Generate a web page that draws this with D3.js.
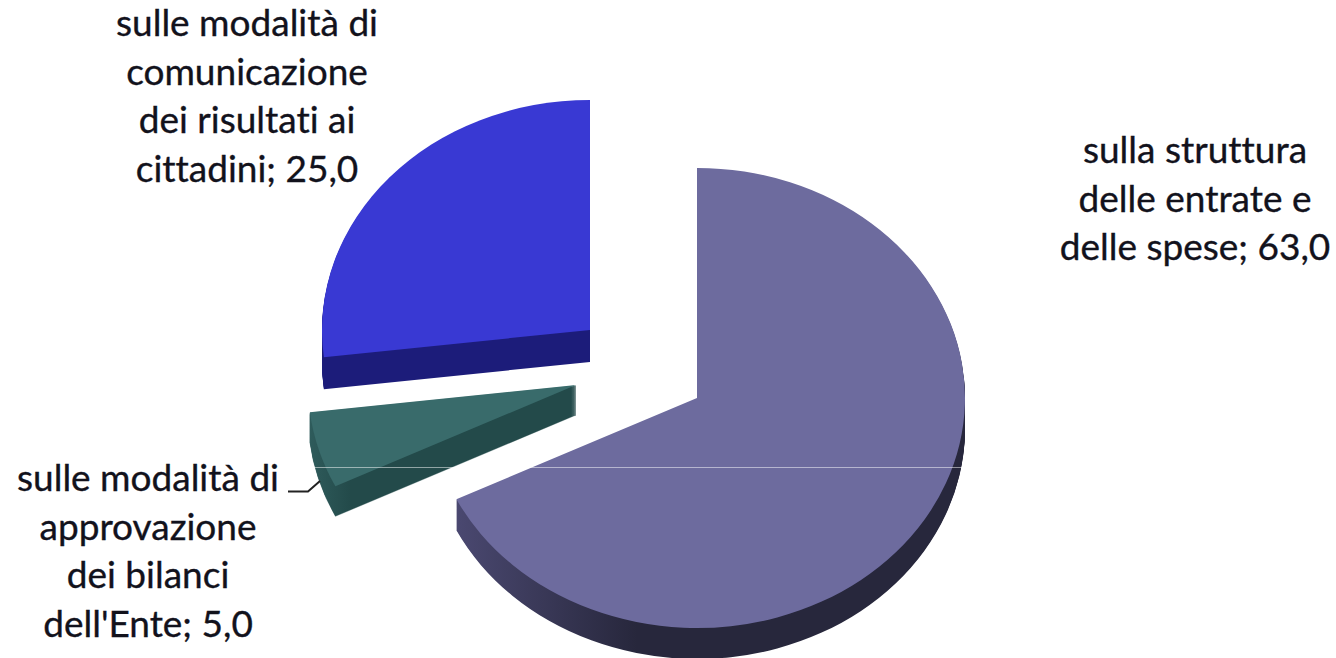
<!DOCTYPE html>
<html lang="it">
<head>
<meta charset="utf-8">
<title>Grafico a torta</title>
<script src="https://cdn.jsdelivr.net/npm/d3@7/dist/d3.min.js"></script>
<style>
  html, body { margin: 0; padding: 0; background: #fff; overflow: hidden; }
  svg { display: block; }
  text {
    font-family: Lato, "Open Sans", sans-serif;
    font-variant-ligatures: none;
    fill: #12121c;
    stroke: #12121c;
    stroke-width: 0.35px;
  }
</style>
</head>
<body>
<script>
// Slice values, clockwise from twelve o'clock
const categories = [
  "sulla struttura delle entrate e delle spese",
  "sulle modalità di approvazione dei bilanci dell'Ente",
  "sulle modalità di comunicazione dei risultati ai cittadini"
];
const values = [63, 5, 25];

// Line breaks of each category label
const labelLines = [
  ["sulla struttura", "delle entrate e", "delle spese"],
  ["sulle modalità di", "approvazione", "dei bilanci", "dell'Ente"],
  ["sulle modalità di", "comunicazione", "dei risultati ai", "cittadini"]
];

// Face, wall and wall-highlight colours per slice
const faceColors = ["#6d6b9e", "#396b6b", "#3939d3"];
const wallDark = ["#27273c", "#234a4a", "#1c1c7a"];
const wallLight = ["#4a4870", "#2f5c5c", "#1c1c7a"];

// Layout: each exploded slice has its own apex on the page
const width = 1336, height = 658;
const radiusX = 268, radiusY = 230;
const depth = [31, 30, 32];
const apex = [[697, 398], [576, 385], [590, 330]];
const wallGradient = [[-240, -60], [-268, -225], [-268, 0]];
const wallStroke = [0, 0.4, 0];
const labelBox = [
  { x: 1195, y: 163, dy: 48.5 },
  { x: 148, y: 491, dy: 48.5 },
  { x: 247, y: 36, dy: 48.5 }
];

const commaFormat = v => d3.format(".1f")(v).replace(".", ",");

const svg = d3.select("body").append("svg")
  .attr("width", width)
  .attr("height", height)
  .attr("viewBox", [0, 0, width, height]);

const pie = d3.pie().sort(null).value(d => d)(values);
const arc = d3.arc().innerRadius(0).outerRadius(radiusX);

const defs = svg.append("defs");
pie.forEach((_, i) => {
  const g = defs.append("linearGradient")
    .attr("id", `wall-${i}`)
    .attr("gradientUnits", "userSpaceOnUse")
    .attr("x1", wallGradient[i][0]).attr("x2", wallGradient[i][1])
    .attr("y1", 0).attr("y2", 0);
  g.append("stop").attr("offset", 0).attr("stop-color", wallLight[i]);
  g.append("stop").attr("offset", 1).attr("stop-color", wallDark[i]);
});

const slices = svg.selectAll("g.slice")
  .data(pie)
  .join("g")
  .attr("class", "slice");

// Extruded wall: the slice outline repeated downward, one pixel per layer
slices.each(function (d, i) {
  d3.select(this).selectAll("path.wall")
    .data(d3.range(depth[i], 0, -1))
    .join("path")
    .attr("class", "wall")
    .attr("d", arc(d))
    .attr("fill", `url(#wall-${i})`)
    .attr("stroke", wallStroke[i] ? `url(#wall-${i})` : "none")
    .attr("stroke-width", wallStroke[i])
    .attr("transform", k => `translate(${apex[i][0]},${apex[i][1] + k}) scale(1,${radiusY / radiusX})`);
});

// Top face of each slice
slices.append("path")
  .attr("class", "face")
  .attr("d", d => arc(d))
  .attr("fill", (d, i) => faceColors[i])
  .attr("transform", (d, i) => `translate(${apex[i][0]},${apex[i][1]}) scale(1,${radiusY / radiusX})`);

// Thin light rule crossing the pie
svg.append("line")
  .attr("x1", 312).attr("x2", 965)
  .attr("y1", 467.5).attr("y2", 467.5)
  .attr("stroke", "#fff").attr("stroke-opacity", 0.5).attr("stroke-width", 1);

// Leader from the small slice to its label
svg.append("path")
  .attr("d", d3.line()([[288, 491.5], [308, 491.5], [320, 481]]))
  .attr("fill", "none")
  .attr("stroke", "#222")
  .attr("stroke-width", 2);

// Data labels: category lines, with the value on the last line
const labels = svg.selectAll("text.label")
  .data(pie)
  .join("text")
  .attr("class", "label")
  .attr("text-anchor", "middle")
  .attr("font-size", 37);

labels.each(function (d, i) {
  const box = labelBox[i];
  const lines = labelLines[i].slice();
  lines[lines.length - 1] += `; ${commaFormat(values[i])}`;
  d3.select(this).selectAll("tspan")
    .data(lines)
    .join("tspan")
    .attr("x", box.x)
    .attr("y", (_, k) => box.y + k * box.dy)
    .text(t => t);
});
</script>
</body>
</html>
